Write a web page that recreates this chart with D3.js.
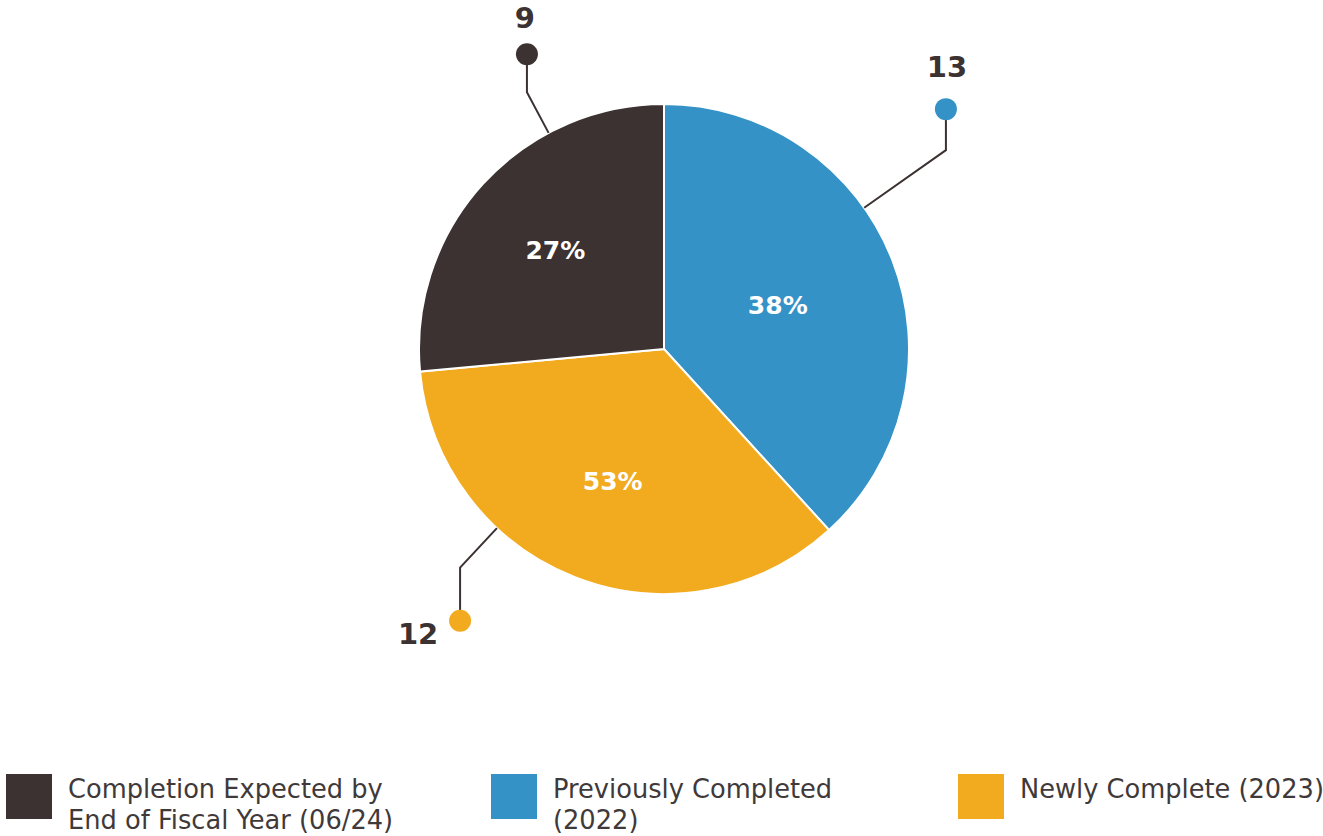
<!DOCTYPE html>
<html>
<head>
<meta charset="utf-8">
<script src="https://cdn.jsdelivr.net/npm/d3@7"></script>
<style>
  body { margin: 0; background: #fff; }
  text { font-family: "DejaVu Sans", sans-serif; }
</style>
</head>
<body>
<script>
// slice data, clockwise from 12 o'clock
var categories = ["Previously Completed (2022)", "Newly Complete (2023)", "Completion Expected by End of Fiscal Year (06/24)"];
var counts = [13, 12, 9];
var percentLabels = ["38%", "53%", "27%"];
var sliceColors = ["#3492c7", "#f2ab1e", "#3b3231"];

// legend order and line breaks
var legendOrder = [2, 0, 1];
var legendLines = [
    ["Previously Completed", "(2022)"],
    ["Newly Complete (2023)"],
    ["Completion Expected by", "End of Fiscal Year (06/24)"]
];

var width = 1323, height = 836;
var cx = 664, cy = 349, radius = 245;
var ink = "#3b3231";

// leader line layout per slice: angle on rim (deg), elbow radius, stem length (+ down / - up), label offset
var leaders = [
    { angle: 54.8, elbowR: 345, stem: -41, ldx: 1, ldy: -32 },
    { angle: 223, elbowR: 299, stem: 53, ldx: -42, ldy: 23 },
    { angle: 331.9, elbowR: 291, stem: -38, ldx: -2, ldy: -26 }
];
var labelR = [122, 142, 147];

var svg = d3.select("body").append("svg")
    .attr("width", width)
    .attr("height", height);

var pie = d3.pie().sort(null).value(function(d) { return d; });
var arcs = pie(counts);

var arc = d3.arc().innerRadius(0).outerRadius(radius);

var g = svg.append("g").attr("transform", "translate(" + cx + "," + cy + ")");

g.selectAll("path")
    .data(arcs)
    .enter()
    .append("path")
    .attr("d", arc)
    .attr("fill", function(d, i) { return sliceColors[i]; })
    .attr("stroke", "#fff")
    .attr("stroke-width", 2);

g.selectAll("text.pct")
    .data(arcs)
    .enter()
    .append("text")
    .attr("class", "pct")
    .attr("transform", function(d, i) {
        var c = d3.arc().innerRadius(labelR[i]).outerRadius(labelR[i]).centroid(d);
        return "translate(" + c[0] + "," + (c[1] + 9) + ")";
    })
    .attr("text-anchor", "middle")
    .attr("fill", "#fff")
    .style("font-weight", "bold")
    .style("font-size", "25px")
    .text(function(d, i) { return percentLabels[i]; });

// leader lines with dots and counts
function polar(r, deg) {
    var a = deg * Math.PI / 180;
    return [r * Math.sin(a), -r * Math.cos(a)];
}

leaders.forEach(function(l, i) {
    var p0 = polar(radius, l.angle);
    var p1 = polar(l.elbowR, l.angle);
    var p2 = [p1[0], p1[1] + l.stem];

    g.append("polyline")
        .attr("points", [p0, p1, p2].map(function(p) { return p.join(","); }).join(" "))
        .attr("fill", "none")
        .attr("stroke", ink)
        .attr("stroke-width", 2);

    g.append("circle")
        .attr("cx", p2[0])
        .attr("cy", p2[1])
        .attr("r", 11)
        .attr("fill", sliceColors[i]);

    g.append("text")
        .attr("x", p2[0] + l.ldx)
        .attr("y", p2[1] + l.ldy)
        .attr("text-anchor", "middle")
        .attr("fill", ink)
        .style("font-weight", "bold")
        .style("font-size", "29px")
        .text(counts[i]);
});

// legend
var legendX = [6, 491, 958];
var legend = svg.selectAll("g.legend")
    .data(legendOrder)
    .enter()
    .append("g")
    .attr("class", "legend")
    .attr("transform", function(d, j) { return "translate(" + legendX[j] + ",774)"; });

legend.append("rect")
    .attr("width", 46)
    .attr("height", 45)
    .attr("fill", function(d) { return sliceColors[d]; });

legend.each(function(d) {
    var t = d3.select(this).append("text")
        .attr("fill", "#3f3a39")
        .style("font-size", "25.7px");
    legendLines[d].forEach(function(line, k) {
        t.append("tspan")
            .attr("x", 62)
            .attr("y", 24 + k * 31)
            .text(line);
    });
});
</script>
</body>
</html>
